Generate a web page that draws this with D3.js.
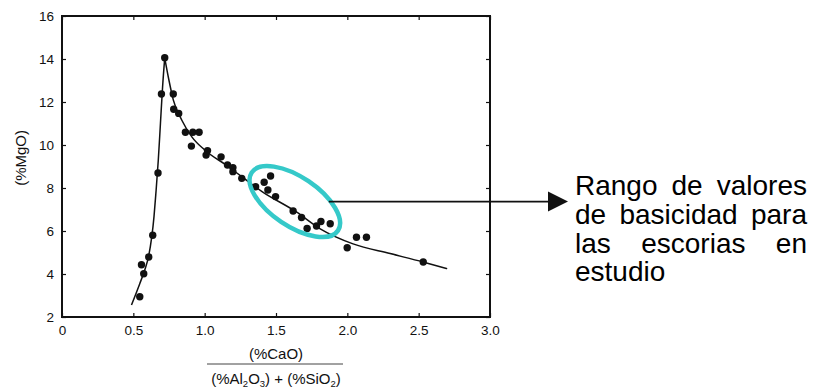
<!DOCTYPE html>
<html>
<head>
<meta charset="utf-8">
<script src="https://cdn.jsdelivr.net/npm/d3@7/dist/d3.min.js"></script>
<style>
  html, body { margin: 0; padding: 0; background: #fff; }
  svg { display: block; font-family: "Liberation Sans", Arial, sans-serif; }
</style>
</head>
<body>
<svg id="chart" width="817" height="388"></svg>
<script>
// measured points (basicity vs %MgO)
const basicity = [0.545, 0.557, 0.573, 0.608, 0.636, 0.673, 0.697, 0.72, 0.78, 0.783, 0.818,
  0.865, 0.917, 0.961, 0.907, 1.02, 1.01, 1.115, 1.16, 1.198, 1.198, 1.26, 1.357, 1.417, 1.462,
  1.443, 1.497, 1.62, 1.679, 1.718, 1.784, 1.815, 1.88, 1.999, 2.064, 2.134, 2.532];
const mgo = [2.94, 4.43, 4.01, 4.79, 5.8, 8.7, 12.37, 14.06, 12.37, 11.66, 11.47,
  10.59, 10.59, 10.59, 9.95, 9.74, 9.53, 9.45, 9.07, 8.95, 8.76, 8.45, 8.06, 8.27, 8.56,
  7.91, 7.6, 6.93, 6.63, 6.12, 6.23, 6.44, 6.34, 5.22, 5.71, 5.71, 4.56];

// fitted curve (two branches meeting at the peak)
const riseX = [0.487, 0.545, 0.58, 0.608, 0.645, 0.658, 0.675, 0.69, 0.705, 0.72];
const riseY = [2.56, 3.55, 4.19, 4.85, 6.68, 7.75, 9.3, 11.0, 12.7, 14.05];
const fallX = [0.72, 0.75, 0.78, 0.84, 0.91, 1.0, 1.15, 1.41, 1.64, 1.81, 2.04, 2.3, 2.53, 2.7];
const fallY = [14.05, 13.0, 12.1, 11.15, 10.38, 9.77, 9.07, 7.8, 6.9, 6.1, 5.4, 4.95, 4.56, 4.25];

const xTicks = [0, 0.5, 1.0, 1.5, 2.0, 2.5, 3.0];
const yTicks = [2, 4, 6, 8, 10, 12, 14, 16];
const xTickLabels = ["0", "0.5", "1.0", "1.5", "2.0", "2.5", "3.0"];

const noteLines = ["Rango de valores", "de basicidad para", "las escorias en", "estudio"];

const svg = d3.select("#chart");
const margin = { top: 16, left: 62, right: 327, bottom: 71 };
const W = 817, H = 388;
const w = W - margin.left - margin.right, h = H - margin.top - margin.bottom;
const ink = "#111";

const x = d3.scaleLinear().domain([0, 3]).range([margin.left, margin.left + w]);
const y = d3.scaleLinear().domain([2, 16]).range([margin.top + h, margin.top]);

// axes, ticks pointing inward
const fmt = d => xTickLabels[xTicks.indexOf(d)];
const styleAxis = g => {
  g.select(".domain").remove();
  g.selectAll(".tick line").attr("stroke", ink).attr("stroke-width", 1.2);
  g.selectAll(".tick text").attr("fill", ink).attr("font-size", 13.5).attr("font-family", "Liberation Sans, Arial, sans-serif");
};
svg.append("g").attr("transform", `translate(0,${margin.top + h})`)
  .call(d3.axisBottom(x).tickValues(xTicks).tickFormat(fmt).tickSizeInner(-4).tickSizeOuter(0).tickPadding(8))
  .call(styleAxis);
svg.append("g").attr("transform", `translate(0,${margin.top})`)
  .call(d3.axisTop(x).tickValues(xTicks).tickFormat("").tickSizeInner(-4).tickSizeOuter(0))
  .call(styleAxis);
svg.append("g").attr("transform", `translate(${margin.left},0)`)
  .call(d3.axisLeft(y).tickValues(yTicks).tickSizeInner(-4).tickSizeOuter(0).tickPadding(8))
  .call(styleAxis);
svg.append("g").attr("transform", `translate(${margin.left + w},0)`)
  .call(d3.axisRight(y).tickValues(yTicks).tickFormat("").tickSizeInner(-4).tickSizeOuter(0))
  .call(styleAxis);

svg.append("rect")
  .attr("x", margin.left).attr("y", margin.top).attr("width", w).attr("height", h)
  .attr("fill", "none").attr("stroke", ink).attr("stroke-width", 2);

// curve
const line = d3.line().x(d => x(d[0])).y(d => y(d[1])).curve(d3.curveMonotoneX);
[[riseX, riseY], [fallX, fallY]].forEach(([xs, ys]) => {
  svg.append("path")
    .datum(xs.map((v, i) => [v, ys[i]]))
    .attr("d", line)
    .attr("fill", "none").attr("stroke", ink).attr("stroke-width", 1.5);
});

// points
svg.append("g").selectAll("circle")
  .data(basicity.map((v, i) => [v, mgo[i]]))
  .join("circle")
  .attr("cx", d => x(d[0])).attr("cy", d => y(d[1])).attr("r", 3.7)
  .attr("fill", ink);

// axis titles
svg.append("text")
  .attr("transform", `translate(20,${y(9.4)}) rotate(-90)`)
  .attr("text-anchor", "middle").attr("dominant-baseline", "central")
  .attr("font-size", 15).attr("fill", ink).text("(%MgO)");

const fx = x(1.5);
svg.append("text").attr("x", fx).attr("y", 358.5).attr("text-anchor", "middle")
  .attr("font-size", 15).attr("fill", ink).text("(%CaO)");
svg.append("line").attr("x1", 207).attr("x2", 343).attr("y1", 364).attr("y2", 364)
  .attr("stroke", "#444").attr("stroke-width", 1);
const den = svg.append("text").attr("x", fx).attr("y", 383.5).attr("text-anchor", "middle")
  .attr("font-size", 15).attr("fill", ink);
[["(%Al", 0], ["2", 1], ["O", 0], ["3", 1], [") + (%SiO", 0], ["2", 1], [")", 0]].forEach(([t, sub], i, arr) => {
  const prevSub = i > 0 ? arr[i - 1][1] : 0;
  den.append("tspan")
    .attr("dy", sub && !prevSub ? 3 : (!sub && prevSub ? -3 : 0))
    .attr("font-size", sub ? 9.5 : 15)
    .text(t);
});

// highlighted range (ellipse around the studied slags)
const ec = [x(1.632), y(7.37)];
const ea = 52, eb = 24.5, eang = 34;
svg.append("ellipse")
  .attr("transform", `translate(${ec[0]},${ec[1]}) rotate(${eang})`)
  .attr("rx", ea).attr("ry", eb)
  .attr("fill", "none").attr("stroke", "#35c9c9").attr("stroke-width", 4.5);

// arrow to the note
const t = eang * Math.PI / 180;
const edgeX = ea * eb / Math.sqrt(ea * ea * Math.sin(t) ** 2 + eb * eb * Math.cos(t) ** 2);
const ay = ec[1];
svg.append("line")
  .attr("x1", ec[0] + edgeX - 2).attr("x2", 550).attr("y1", ay).attr("y2", ay)
  .attr("stroke", ink).attr("stroke-width", 1.8);
svg.append("path")
  .attr("d", `M548,${ay - 10}L568,${ay}L548,${ay + 10}Z`)
  .attr("fill", ink);

// justified note text
const noteLeft = 575, noteRight = 807, noteTop = 195, noteStep = 28.8;
noteLines.forEach((ln, i) => {
  const words = ln.split(" ");
  const yb = noteTop + i * noteStep;
  const last = i === noteLines.length - 1;
  const nodes = words.map(wd => svg.append("text").attr("y", yb)
    .attr("font-size", 28).attr("fill", "#000").text(wd));
  const widths = nodes.map(n => n.node().getComputedTextLength());
  if (last || words.length === 1) {
    nodes[0].attr("x", noteLeft);
    return;
  }
  const gap = (noteRight - noteLeft - d3.sum(widths)) / (words.length - 1);
  let cx = noteLeft;
  nodes.forEach((n, k) => { n.attr("x", cx); cx += widths[k] + gap; });
});
</script>
</body>
</html>
